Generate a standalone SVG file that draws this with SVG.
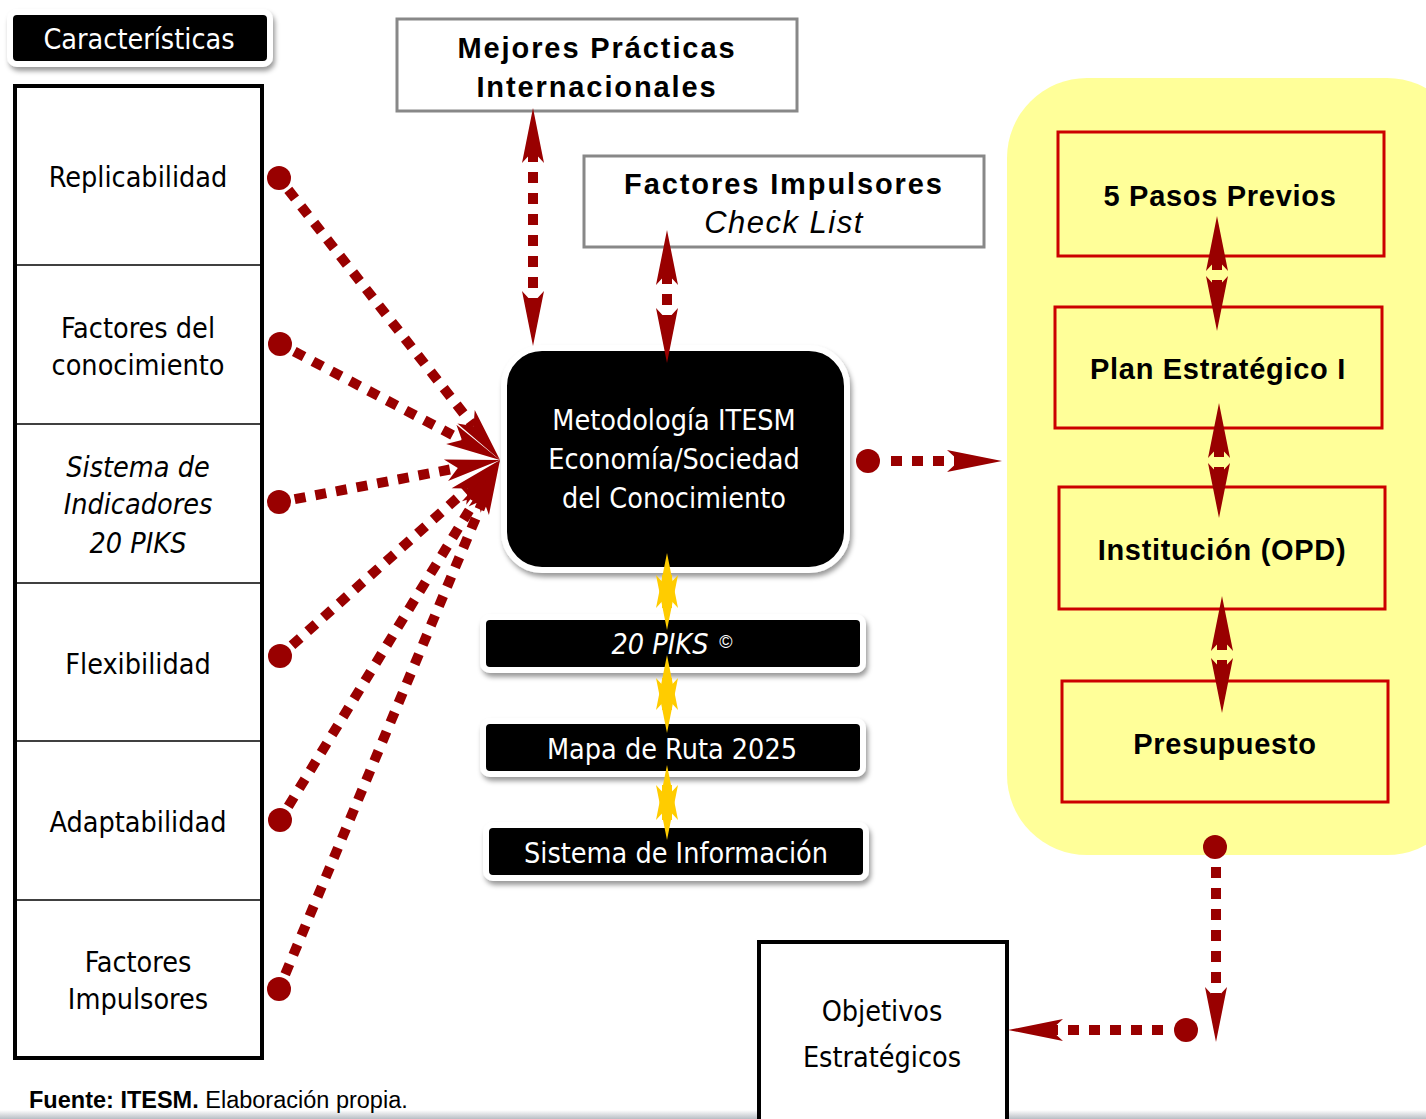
<svg xmlns="http://www.w3.org/2000/svg" width="1426" height="1119" viewBox="0 0 1426 1119">
<defs>
<style>
.n{font-family:"DejaVu Sans Condensed","DejaVu Sans","Liberation Sans",sans-serif;font-stretch:condensed;font-size:28.5px;text-anchor:middle;}
.w{fill:#fff;}
.k{fill:#000;}
.b{font-family:"Liberation Sans",Arial,sans-serif;font-weight:bold;font-size:29px;text-anchor:middle;letter-spacing:1.9px;fill:#000;}
.r{letter-spacing:0.7px;}
.it{font-style:italic;}
.blk{fill:#000;stroke:#fff;stroke-width:6;filter:url(#sh);}
.gbox{fill:#fff;stroke:#888;stroke-width:3;}
.rbox{fill:none;stroke:#cc0000;stroke-width:3;}
.dl{fill:none;stroke:#990000;stroke-width:10;stroke-dasharray:11 10;}
.dot{fill:#990000;}
.gold{fill:#ffcc00;}
</style>
<filter id="sh" x="-10%" y="-20%" width="125%" height="150%">
<feDropShadow dx="2" dy="4" stdDeviation="2.5" flood-color="#000" flood-opacity="0.4"/>
</filter>
<marker id="ah" viewBox="-56 -12 58 24" refX="-43" refY="0" markerWidth="58" markerHeight="24" markerUnits="userSpaceOnUse" orient="auto-start-reverse">
<path d="M0,0 L-55,-11 L-43,0 L-55,11 Z" fill="#990000"/>
</marker>
<linearGradient id="bot" x1="0" y1="0" x2="0" y2="1">
<stop offset="0" stop-color="#fff"/><stop offset="1" stop-color="#b8bec4"/>
</linearGradient>
</defs>

<rect x="0" y="0" width="1426" height="1119" fill="#fff"/>
<rect x="0" y="1110" width="1426" height="9" fill="url(#bot)"/>

<rect id="panel" x="1007" y="78" width="460" height="777" rx="80" fill="#ffff99"/>

<g id="caracteristicas">
<rect class="blk" x="10" y="12" width="260" height="52" rx="7"/>
<text class="n w" x="139" y="49">Características</text>
</g>

<g id="columna">
<rect x="15" y="86" width="247" height="972" fill="#fff" stroke="#000" stroke-width="4"/>
<g stroke="#000" stroke-width="1.5">
<line x1="15" y1="265" x2="262" y2="265"/>
<line x1="15" y1="424" x2="262" y2="424"/>
<line x1="15" y1="583" x2="262" y2="583"/>
<line x1="15" y1="741" x2="262" y2="741"/>
<line x1="15" y1="900" x2="262" y2="900"/>
</g>
</g>
<g id="replicabilidad"><text class="n k" x="138" y="187">Replicabilidad</text></g>
<g id="factores-conocimiento"><text class="n k" x="138" y="338">Factores del</text><text class="n k" x="138" y="375">conocimiento</text></g>
<g id="sistema-indicadores"><text class="n k it" x="138" y="477">Sistema de</text><text class="n k it" x="138" y="514">Indicadores</text><text class="n k it" x="138" y="553">20 PIKS</text></g>
<g id="flexibilidad"><text class="n k" x="138" y="674">Flexibilidad</text></g>
<g id="adaptabilidad"><text class="n k" x="138" y="832">Adaptabilidad</text></g>
<g id="factores-impulsores-l"><text class="n k" x="138" y="972">Factores</text><text class="n k" x="138" y="1009">Impulsores</text></g>

<g id="mejores">
<rect class="gbox" x="397" y="19" width="400" height="92"/>
<text class="b" x="597" y="58">Mejores Prácticas</text>
<text class="b" x="597" y="97">Internacionales</text>
</g>

<g id="factores-check">
<rect class="gbox" x="584" y="156" width="400" height="91"/>
<text class="b" x="784" y="194">Factores Impulsores</text>
<text class="b it" x="784" y="233" style="font-weight:normal;font-size:31px;letter-spacing:1.5px">Check List</text>
</g>

<g id="metodologia">
<rect class="blk" x="504" y="348" width="343" height="222" rx="38"/>
<text class="n w" x="674" y="430">Metodología ITESM</text>
<text class="n w" x="674" y="469">Economía/Sociedad</text>
<text class="n w" x="674" y="508">del Conocimiento</text>
</g>

<g id="piks">
<rect class="blk" x="483" y="617" width="380" height="53" rx="7"/>
<text class="n w it" x="660" y="654">20 PIKS</text>
<text x="726" y="648" fill="#fff" font-family="Liberation Sans,sans-serif" font-size="18" text-anchor="middle">©</text>
</g>
<g id="mapa">
<rect class="blk" x="483" y="721" width="380" height="53" rx="7"/>
<text class="n w" x="672" y="759">Mapa de Ruta 2025</text>
</g>
<g id="sistema-info">
<rect class="blk" x="486" y="825" width="380" height="53" rx="7"/>
<text class="n w" x="676" y="863">Sistema de Información</text>
</g>

<g id="pasos">
<rect class="rbox" x="1058" y="132" width="326" height="124"/>
<text class="b r" x="1220" y="206">5 Pasos Previos</text>
</g>
<g id="plan">
<rect class="rbox" x="1055" y="307" width="327" height="121"/>
<text class="b r" x="1218" y="379">Plan Estratégico I</text>
</g>
<g id="institucion">
<rect class="rbox" x="1059" y="487" width="326" height="122"/>
<text class="b r" x="1222" y="560">Institución (OPD)</text>
</g>
<g id="presupuesto">
<rect class="rbox" x="1062" y="681" width="326" height="121"/>
<text class="b r" x="1225" y="754">Presupuesto</text>
</g>

<g id="objetivos">
<rect x="759" y="942" width="248" height="190" fill="#fff" stroke="#000" stroke-width="4"/>
<text class="n k" x="882" y="1021">Objetivos</text>
<text class="n k" x="882" y="1067">Estratégicos</text>
</g>

<g id="footer">
<text x="29" y="1108" font-family="Liberation Sans,Arial,sans-serif" font-size="23.5" fill="#000"><tspan font-weight="bold">Fuente: ITESM.</tspan> Elaboración propia.</text>
</g>

<g id="connectors">
<path class="dl" d="M288.3,189.8 L473.5,426.2" marker-end="url(#ah)"/>
<path class="dl" d="M294.3,351.5 L461.9,440" marker-end="url(#ah)"/>
<path class="dl" d="M294.7,499.2 L457.8,468" marker-end="url(#ah)"/>
<path class="dl" d="M292,645.3 L467.9,488.6" marker-end="url(#ah)"/>
<path class="dl" d="M288.3,806.4 L477.6,496.7" marker-end="url(#ah)"/>
<path class="dl" d="M285.2,974.3 L483.4,499.7" marker-end="url(#ah)"/>
<circle class="dot" cx="279" cy="178" r="12"/>
<circle class="dot" cx="280" cy="344" r="12"/>
<circle class="dot" cx="279" cy="502" r="12"/>
<circle class="dot" cx="280" cy="656" r="12"/>
<circle class="dot" cx="280" cy="820" r="12"/>
<circle class="dot" cx="279" cy="989" r="12"/>

<path class="dl" d="M533,151 L533,303" marker-start="url(#ah)" marker-end="url(#ah)"/>
<path class="dl" d="M667,273 L667,320" marker-start="url(#ah)" marker-end="url(#ah)"/>

<circle class="dot" cx="868" cy="461" r="12"/>
<path class="dl" d="M891,461 L959,461" marker-end="url(#ah)"/>

<path class="dl" d="M1217,259 L1217,288" marker-start="url(#ah)" marker-end="url(#ah)"/>
<path class="dl" d="M1219,446 L1219,475" marker-start="url(#ah)" marker-end="url(#ah)"/>
<path class="dl" d="M1222,639 L1222,670" marker-start="url(#ah)" marker-end="url(#ah)"/>

<circle class="dot" cx="1215" cy="847" r="12"/>
<path class="dl" d="M1216,867 L1216,999" marker-end="url(#ah)"/>
<circle class="dot" cx="1186" cy="1030" r="12"/>
<path class="dl" d="M1163,1030 L1051,1030" marker-end="url(#ah)"/>

<g class="gold">
<path d="M667,553 L678,608 L667,596 L656,608 Z"/><path d="M667,630 L678,575 L667,587 L656,575 Z"/><rect x="662" y="575" width="10" height="33"/>
<path d="M667,655 L678,710 L667,698 L656,710 Z"/><path d="M667,733 L678,678 L667,690 L656,678 Z"/><rect x="662" y="678" width="10" height="32"/>
<path d="M667,765 L678,820 L667,808 L656,820 Z"/><path d="M667,840 L678,785 L667,797 L656,785 Z"/><rect x="662" y="785" width="10" height="35"/>
</g>
</g>
</svg>
